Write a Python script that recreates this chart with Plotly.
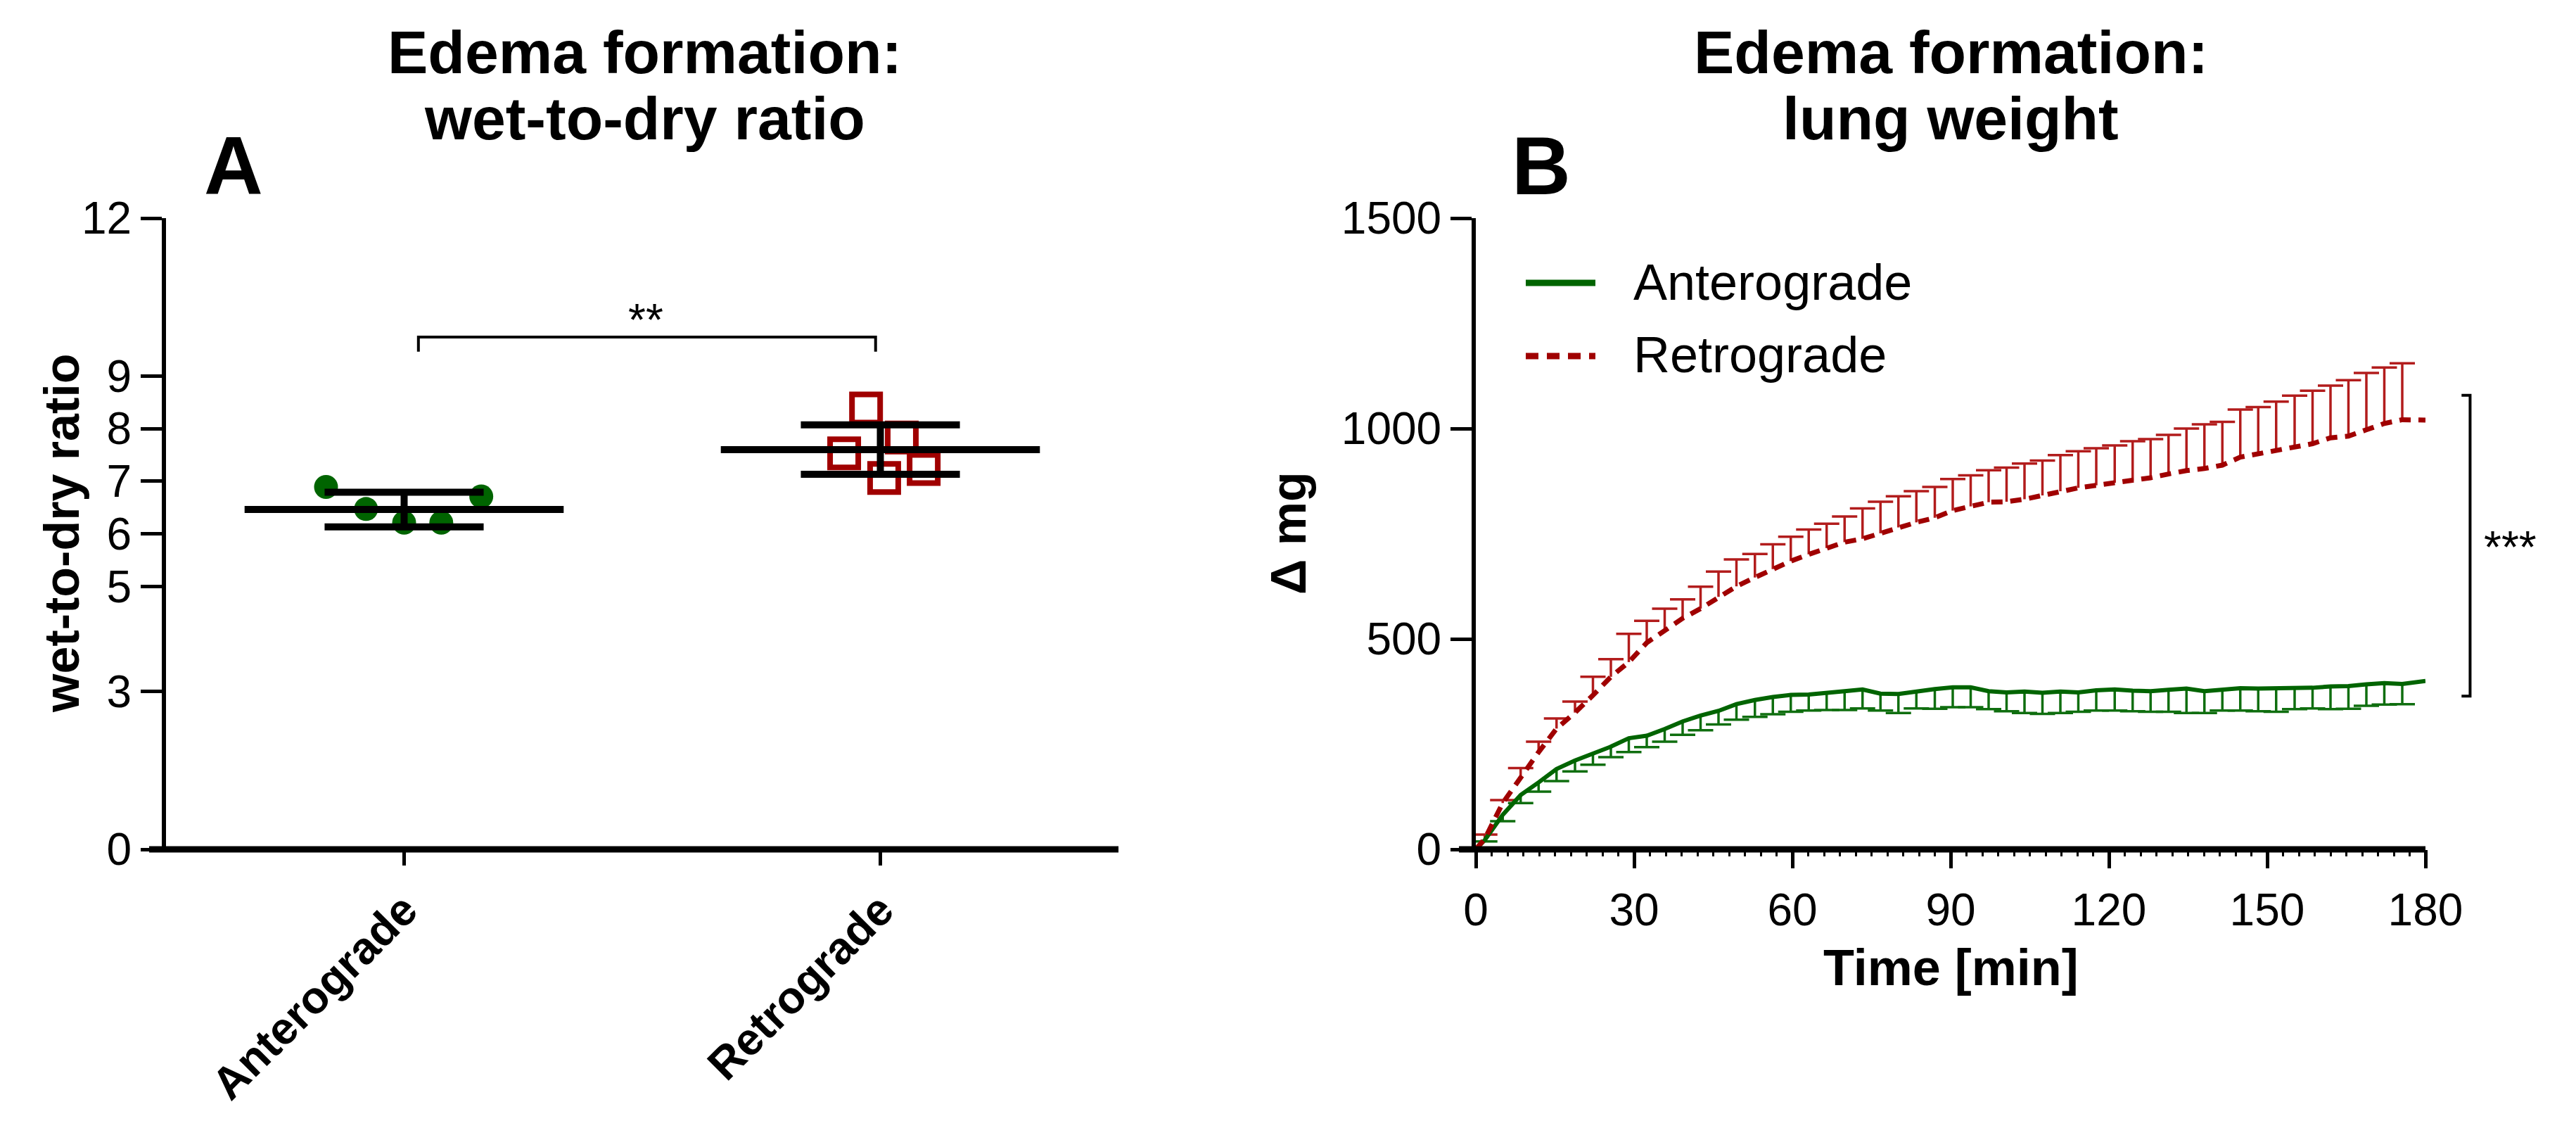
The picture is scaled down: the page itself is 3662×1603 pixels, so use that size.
import plotly.graph_objects as go

W, H = 3662, 1603
FONT = "Arial, Liberation Sans, sans-serif"

# ---------------- Panel A data (wet-to-dry ratio) ----------------
groups = ["Anterograde", "Retrograde"]
antero_ratio = [6.89, 6.47, 6.21, 6.21, 6.71]
retro_ratio = [8.38, 7.53, 7.83, 7.06, 7.23]
ratio_mean = [6.46, 7.60]
ratio_sd = [0.33, 0.47]
ratio_ticks = [0, 3, 5, 6, 7, 8, 9, 12]

# ---------------- Panel B data (lung weight, delta mg) ----------------
time_min = [1.7, 5.1, 8.5, 11.9, 15.3, 18.8, 22.2, 25.6, 29.0, 32.4, 35.8, 39.2, 42.6,
            46.0, 49.4, 52.9, 56.3, 59.7, 63.1, 66.5, 69.9, 73.3, 76.7, 80.1, 83.5, 87.0,
            90.4, 93.8, 97.2, 100.6, 104.0, 107.4, 110.8, 114.2, 117.6, 121.1, 124.5,
            127.9, 131.3, 134.7, 138.1, 141.5, 144.9, 148.3, 151.7, 155.2, 158.6, 162.0,
            165.4, 168.8, 172.2, 175.6]
antero_mean = [22, 82, 129, 159, 191, 211, 228, 244, 264, 270, 286, 304, 318, 329, 345,
               355, 362, 367, 368, 371, 376, 380, 370, 369, 376, 381, 385, 385, 376, 373,
               375, 372, 375, 373, 378, 380, 377, 376, 379, 382, 376, 380, 383, 382, 382,
               383, 384, 387, 388, 392, 395, 393]
antero_sd = [3, 15, 19, 22, 29, 26, 27, 25, 33, 27, 30, 32, 35, 32, 37, 40, 41, 40, 38, 40,
             45, 45, 40, 45, 41, 47, 47, 47, 43, 45, 51, 50, 51, 46, 48, 50, 49, 49, 52, 58,
             52, 50, 53, 54, 55, 50, 49, 54, 54, 51, 51, 48]
retro_mean = [25, 110, 172, 231, 287, 325, 366, 410, 445, 491, 520, 549, 572, 600, 625,
              646, 666, 685, 701, 716, 730, 738, 751, 765, 777, 788, 805, 815, 825, 826,
              832, 841, 851, 859, 865, 871, 876, 883, 892, 900, 905, 913, 932, 940, 950,
              957, 964, 978, 982, 997, 1012, 1021]
retro_sd = [10, 7, 21, 25, 24, 26, 44, 42, 67, 52, 52, 45, 52, 60, 64, 56, 59, 58, 59, 58,
            61, 72, 75, 74, 74, 73, 75, 74, 76, 81, 85, 83, 86, 87, 88, 89, 94, 92, 93, 100,
            105, 103, 113, 111, 114, 121, 126, 124, 133, 135, 133, 134]
t_start, t_end = 0, 180
antero_start, antero_end = 0, 400
retro_start, retro_end = 0, 1020
time_ticks = [0, 30, 60, 90, 120, 150, 180]
mg_ticks = [0, 500, 1000, 1500]

# ---------------- styling / layout helpers ----------------
GREEN = "#006400"
GREEN_ERR = "#0f6e0f"
RED = "#a00000"
RED_ERR = "#b21c1c"


def px_x(x):
    return x / W


def px_y(y):
    return 1 - y / H


A_DOM_X = [px_x(236), px_x(1590)]
B_DOM_X = [px_x(2098), px_x(3448)]
DOM_Y = [px_y(1207), px_y(310)]

JIT_A = [-0.164, -0.080, 0.0, 0.078, 0.162]
JIT_R = [-0.030, -0.076, 0.045, 0.008, 0.091]

fig = go.Figure()

# ---------- Panel A ----------
fig.add_trace(go.Scatter(
    x=[0 + j for j in JIT_A], y=antero_ratio, mode="markers",
    marker=dict(symbol="circle", size=34, color=GREEN, line=dict(width=0)),
    showlegend=False, xaxis="x", yaxis="y", cliponaxis=False))
fig.add_trace(go.Scatter(
    x=[1 + j for j in JIT_R], y=retro_ratio, mode="markers",
    marker=dict(symbol="square-open", size=40, color=RED, line=dict(width=8, color=RED)),
    showlegend=False, xaxis="x", yaxis="y", cliponaxis=False))

MEAN_HALF = 0.335
CAP_HALF = 0.167
for i, (m, s) in enumerate(zip(ratio_mean, ratio_sd)):
    xs = [i - MEAN_HALF, i + MEAN_HALF, None,
          i - CAP_HALF, i + CAP_HALF, None,
          i - CAP_HALF, i + CAP_HALF, None,
          i, i]
    ys = [m, m, None, m + s, m + s, None, m - s, m - s, None, m - s, m + s]
    fig.add_trace(go.Scatter(x=xs, y=ys, mode="lines",
                             line=dict(color="black", width=10),
                             showlegend=False, xaxis="x", yaxis="y"))

# ---------- Panel B ----------
CAP_B = 2.4  # minutes, half cap width


def err_path(ts, ms, sds, sign):
    xs, ys = [], []
    for t, m, s in zip(ts, ms, sds):
        e = m + sign * s
        xs += [t, t, None, t - CAP_B, t + CAP_B, None]
        ys += [m, e, None, e, e, None]
    return xs, ys


gx, gy = err_path(time_min, antero_mean, antero_sd, -1)
rx, ry = err_path(time_min, retro_mean, retro_sd, +1)

fig.add_trace(go.Scatter(x=gx, y=gy, mode="lines", line=dict(color=GREEN_ERR, width=3.5),
                         showlegend=False, xaxis="x2", yaxis="y2"))
fig.add_trace(go.Scatter(x=rx, y=ry, mode="lines", line=dict(color=RED_ERR, width=3.5),
                         showlegend=False, xaxis="x2", yaxis="y2"))
fig.add_trace(go.Scatter(
    x=[t_start] + time_min + [t_end], y=[antero_start] + antero_mean + [antero_end],
    mode="lines", line=dict(color=GREEN, width=6), name="Anterograde",
    showlegend=False, xaxis="x2", yaxis="y2"))
fig.add_trace(go.Scatter(
    x=[t_start] + time_min + [t_end], y=[retro_start] + retro_mean + [retro_end],
    mode="lines", line=dict(color=RED, width=7, dash="16px,11px"), name="Retrograde",
    showlegend=False, xaxis="x2", yaxis="y2"))

tickfont = dict(family=FONT, size=64, color="black")

fig.update_layout(
    width=W, height=H,
    margin=dict(l=0, r=0, t=0, b=0, pad=0, autoexpand=False),
    paper_bgcolor="white", plot_bgcolor="white",
    font=dict(family=FONT, color="black"),
    showlegend=False,
    xaxis=dict(domain=A_DOM_X, range=[-0.5, 1.5], anchor="y", automargin=False,
               tickvals=[0, 1], ticktext=["<b>%s</b>" % g for g in groups],
               tickangle=-45, tickfont=tickfont, ticks="outside", ticklen=22,
               tickwidth=5, tickcolor="black", showline=False, showgrid=False,
               zeroline=False, ticklabelstandoff=0),
    yaxis=dict(domain=DOM_Y, range=[0, 12], anchor="x", automargin=False,
               tickvals=ratio_ticks, ticktext=[str(v) for v in ratio_ticks],
               tickfont=tickfont, ticks="outside", ticklen=30, tickwidth=5,
               tickcolor="black", showline=True, linewidth=6, linecolor="black",
               showgrid=False, zeroline=False),
    xaxis2=dict(domain=B_DOM_X, range=[0, 180], anchor="y2", automargin=False,
                tickvals=time_ticks, ticktext=[str(v) for v in time_ticks],
                tickfont=tickfont, ticks="outside", ticklen=26, tickwidth=5,
                tickcolor="black", showline=False, showgrid=False, zeroline=False,
                ticklabelstandoff=4,
                minor=dict(dtick=3, ticks="outside", ticklen=9, tickwidth=3,
                           tickcolor="black", showgrid=False)),
    yaxis2=dict(domain=DOM_Y, range=[0, 1500], anchor="x2", automargin=False,
                tickvals=mg_ticks, ticktext=[str(v) for v in mg_ticks],
                tickfont=tickfont, ticks="outside", ticklen=30, tickwidth=5,
                tickcolor="black", showline=True, linewidth=6, linecolor="black",
                showgrid=False, zeroline=False),
)

shapes = []
# x-axis lines extending slightly left of the y-axis
for xr, yr in (("x domain", "y domain"), ("x2 domain", "y2 domain")):
    shapes.append(dict(type="line", xref=xr, yref=yr, x0=-24 / 1354, x1=1.0, y0=0, y1=0,
                       line=dict(color="black", width=9), layer="above"))
# significance bracket A
shapes.append(dict(type="path", xref="x", yref="y",
                   path="M 0.03,9.46 L 0.03,9.74 L 0.99,9.74 L 0.99,9.46",
                   line=dict(color="black", width=4)))
# significance bracket B
shapes.append(dict(type="path", xref="x2 domain", yref="y2",
                   path="M 1.038,1079 L 1.047,1079 L 1.047,364 L 1.038,364",
                   line=dict(color="black", width=4)))
# manual legend samples
shapes.append(dict(type="line", xref="paper", yref="paper", x0=px_x(2169), x1=px_x(2268),
                   y0=px_y(402), y1=px_y(402), line=dict(color=GREEN, width=9)))
shapes.append(dict(type="line", xref="paper", yref="paper", x0=px_x(2169), x1=px_x(2268),
                   y0=px_y(506), y1=px_y(506), line=dict(color=RED, width=9, dash="18px,12px")))
fig.update_layout(shapes=shapes)

ann = []


def text(x, y, s, size, bold=False, angle=0, xanchor="center"):
    ann.append(dict(x=px_x(x), y=px_y(y), xref="paper", yref="paper",
                    text=("<b>%s</b>" % s) if bold else s, showarrow=False,
                    textangle=angle, xanchor=xanchor, yanchor="middle",
                    font=dict(family=FONT, size=size, color="black")))


# titles
text(916, 74, "Edema formation:", 86, bold=True)
text(916, 168, "wet-to-dry ratio", 86, bold=True)
text(2773, 74, "Edema formation:", 86, bold=True)
text(2773, 168, "lung weight", 86, bold=True)
# panel letters
text(332, 236, "A", 116, bold=True)
text(2191, 236, "B", 116, bold=True)
# axis titles
text(88, 758, "wet-to-dry ratio", 70, bold=True, angle=-90)
text(1832, 758, "Δ mg", 70, bold=True, angle=-90)
text(2773, 1375, "Time [min]", 72, bold=True)
# legend labels
text(2320, 401, "Anterograde", 72, xanchor="left")
text(2320, 504, "Retrograde", 72, xanchor="left")
# significance stars
text(918, 455, "**", 64)
text(3568, 778, "***", 64)
fig.update_layout(annotations=ann)

fig.write_html("out.html")
